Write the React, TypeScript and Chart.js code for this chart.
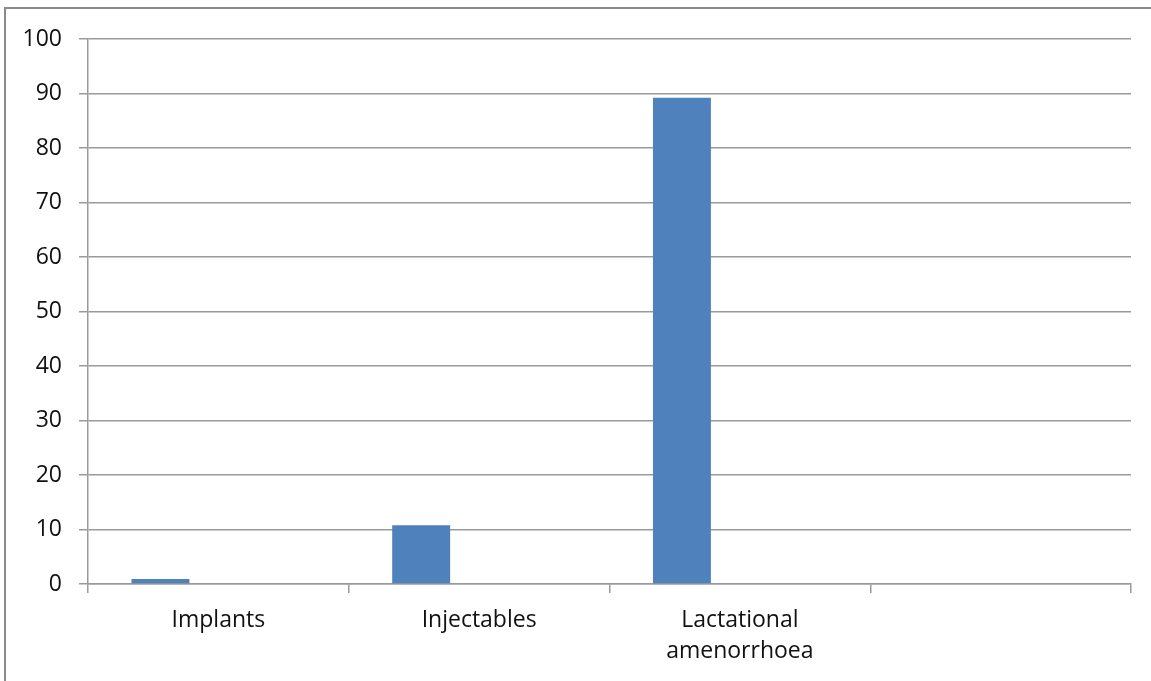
import React, { useEffect, useRef } from "react";
import { Chart, registerables } from "chart.js";

Chart.register(...registerables);

const categories: (string | string[])[] = ["Implants", "Injectables", ["Lactational", "amenorrhoea"], ""];
const series1: (number | null)[] = [0.9, 10.8, 89.2, null];
const series2: (number | null)[] = [null, null, null, null];
const series3: (number | null)[] = [null, null, null, null];
const yTicks: number[] = [0, 10, 20, 30, 40, 50, 60, 70, 80, 90, 100];

const GRID = "#9a9a9a";
const FONT = "'Open Sans', 'Liberation Sans', sans-serif";

const framePlugin = {
  id: "frame",
  beforeDraw(chart: any) {
    const ctx = chart.ctx;
    ctx.save();
    ctx.fillStyle = "#ffffff";
    ctx.fillRect(0, 0, chart.width, chart.height);
    ctx.strokeStyle = "#8a8a8a";
    ctx.lineWidth = 2;
    ctx.strokeRect(5, 8, chart.width + 20, chart.height + 20);
    ctx.restore();
  },
};

export default function App() {
  const ref = useRef<HTMLCanvasElement | null>(null);
  useEffect(() => {
    if (!ref.current) return;
    const chart = new Chart(ref.current, {
      type: "bar",
      data: {
        labels: categories,
        datasets: [
          { label: "Series 1", data: series1, backgroundColor: "#4F81BD", barPercentage: 1, categoryPercentage: 3 / 4.5 },
          { label: "Series 2", data: series2, backgroundColor: "#C0504D", barPercentage: 1, categoryPercentage: 3 / 4.5 },
          { label: "Series 3", data: series3, backgroundColor: "#9BBB59", barPercentage: 1, categoryPercentage: 3 / 4.5 },
        ],
      },
      options: {
        responsive: false,
        animation: false,
        layout: { padding: { top: 39, right: 20, left: 0, bottom: 0 } },
        plugins: { legend: { display: false }, tooltip: { enabled: false } },
        scales: {
          x: {
            offset: true,
            grid: { display: true, drawOnChartArea: false, offset: true, tickLength: 9, color: GRID, lineWidth: 1.5 },
            border: { display: true, color: GRID, width: 1.5 },
            ticks: { color: "#111", font: { family: FONT, size: 23, lineHeight: 1.35 }, padding: 12, maxRotation: 0, autoSkip: false },
            afterFit(scale: any) { scale.height = 97; },
          },
          y: {
            min: 0,
            max: 100,
            afterBuildTicks(scale: any) { scale.ticks = yTicks.map((v) => ({ value: v })); },
            grid: { color: GRID, lineWidth: 1.5, tickLength: 9 },
            border: { display: true, color: GRID, width: 1.5 },
            ticks: { color: "#111", font: { family: FONT, size: 23 }, padding: 17 },
            afterFit(scale: any) { scale.width = 88; },
          },
        },
      },
      plugins: [framePlugin],
    });
    return () => chart.destroy();
  }, []);
  return (
    <div style={{ position: "absolute", left: 0, top: 0, width: 1151, height: 681 }}>
      <canvas ref={ref} width={1151} height={681} />
    </div>
  );
}
